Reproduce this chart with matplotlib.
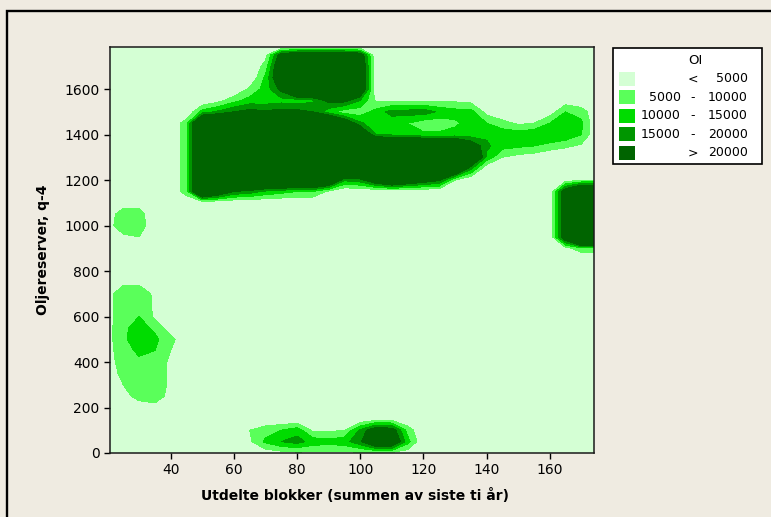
import numpy as np
import matplotlib
matplotlib.use("Agg")
import matplotlib.pyplot as plt
from matplotlib.patches import Rectangle

# surface grid (x = utdelte blokker, y = oljereserver)
x_grid = [20, 25, 30, 35, 40, 45, 50, 55, 60, 65, 70, 75, 80, 85, 90, 95,
          100, 105, 110, 115, 120, 125, 130, 135, 140, 145, 150, 155, 160, 165, 170, 175]
y_grid = [0, 50, 100, 150, 200, 250, 300, 350, 400, 450, 500, 550, 600, 650, 700, 750,
          800, 850, 900, 950, 1000, 1050, 1100, 1150, 1200, 1250, 1300, 1350, 1400,
          1450, 1500, 1550, 1600, 1650, 1700, 1750, 1785]

# OI in thousands, one row per y_grid value
oi = [
    [0, 0, 0, 0, 0, 0, 0, 0, 0, 0, 2, 3, 4, 4, 4, 4, 4, 4, 4, 2, 0, 0, 0, 0, 0, 0, 0, 0, 0, 0, 0, 0],
    [0, 0, 0, 0, 0, 0, 0, 0, 0, 4, 11, 15, 17, 13, 12, 13, 19, 32, 30, 12, 0, 0, 0, 0, 0, 0, 0, 0, 0, 0, 0, 0],
    [0, 0, 0, 0, 0, 0, 0, 0, 0, 5, 8, 10, 13, 4, 4, 5, 16, 26, 24, 8, 0, 0, 0, 0, 0, 0, 0, 0, 0, 0, 0, 0],
    [0, 0, 0, 0, 0, 0, 0, 0, 0, 0, 0, 0, 0, 0, 0, 0, 0, 2, 2, 0, 0, 0, 0, 0, 0, 0, 0, 0, 0, 0, 0, 0],
    [0, 0, 2, 3, 1, 0, 0, 0, 0, 0, 0, 0, 0, 0, 0, 0, 0, 0, 0, 0, 0, 0, 0, 0, 0, 0, 0, 0, 0, 0, 0, 0],
    [0, 3, 7, 8, 3, 0, 0, 0, 0, 0, 0, 0, 0, 0, 0, 0, 0, 0, 0, 0, 0, 0, 0, 0, 0, 0, 0, 0, 0, 0, 0, 0],
    [2, 5, 8, 8, 4, 0, 0, 0, 0, 0, 0, 0, 0, 0, 0, 0, 0, 0, 0, 0, 0, 0, 0, 0, 0, 0, 0, 0, 0, 0, 0, 0],
    [3, 6, 8, 8, 4, 0, 0, 0, 0, 0, 0, 0, 0, 0, 0, 0, 0, 0, 0, 0, 0, 0, 0, 0, 0, 0, 0, 0, 0, 0, 0, 0],
    [3, 7, 9, 8, 4, 0, 0, 0, 0, 0, 0, 0, 0, 0, 0, 0, 0, 0, 0, 0, 0, 0, 0, 0, 0, 0, 0, 0, 0, 0, 0, 0],
    [3, 8, 11, 10, 5, 0, 0, 0, 0, 0, 0, 0, 0, 0, 0, 0, 0, 0, 0, 0, 0, 0, 0, 0, 0, 0, 0, 0, 0, 0, 0, 0],
    [3, 9, 13, 11, 7, 0, 0, 0, 0, 0, 0, 0, 0, 0, 0, 0, 0, 0, 0, 0, 0, 0, 0, 0, 0, 0, 0, 0, 0, 0, 0, 0],
    [3, 9, 12, 9, 2, 0, 0, 0, 0, 0, 0, 0, 0, 0, 0, 0, 0, 0, 0, 0, 0, 0, 0, 0, 0, 0, 0, 0, 0, 0, 0, 0],
    [3, 8, 10, 4, 0, 0, 0, 0, 0, 0, 0, 0, 0, 0, 0, 0, 0, 0, 0, 0, 0, 0, 0, 0, 0, 0, 0, 0, 0, 0, 0, 0],
    [3, 8, 9, 4, 0, 0, 0, 0, 0, 0, 0, 0, 0, 0, 0, 0, 0, 0, 0, 0, 0, 0, 0, 0, 0, 0, 0, 0, 0, 0, 0, 0],
    [3, 8, 8, 4, 0, 0, 0, 0, 0, 0, 0, 0, 0, 0, 0, 0, 0, 0, 0, 0, 0, 0, 0, 0, 0, 0, 0, 0, 0, 0, 0, 0],
    [0, 4, 4, 2, 0, 0, 0, 0, 0, 0, 0, 0, 0, 0, 0, 0, 0, 0, 0, 0, 0, 0, 0, 0, 0, 0, 0, 0, 0, 0, 0, 0],
    [0, 0, 0, 0, 0, 0, 0, 0, 0, 0, 0, 0, 0, 0, 0, 0, 0, 0, 0, 0, 0, 0, 0, 0, 0, 0, 0, 0, 0, 0, 0, 0],
    [0, 0, 0, 0, 0, 0, 0, 0, 0, 0, 0, 0, 0, 0, 0, 0, 0, 0, 0, 0, 0, 0, 0, 0, 0, 0, 0, 0, 0, 0, 0, 0],
    [0, 0, 0, 0, 0, 0, 0, 0, 0, 0, 0, 0, 0, 0, 0, 0, 0, 0, 0, 0, 0, 0, 0, 0, 0, 0, 0, 0, 0, 3, 8, 8],
    [2, 4, 5, 1, 0, 0, 0, 0, 0, 0, 0, 0, 0, 0, 0, 0, 0, 0, 0, 0, 0, 0, 0, 0, 0, 0, 0, 0, 0, 28, 60, 60],
    [3, 8, 8, 1, 0, 0, 0, 0, 0, 0, 0, 0, 0, 0, 0, 0, 0, 0, 0, 0, 0, 0, 0, 0, 0, 0, 0, 0, 0, 28, 60, 60],
    [3, 7, 7, 1, 0, 0, 0, 0, 0, 0, 0, 0, 0, 0, 0, 0, 0, 0, 0, 0, 0, 0, 0, 0, 0, 0, 0, 0, 0, 28, 60, 60],
    [0, 3, 3, 0, 0, 0, 0, 0, 0, 0, 0, 0, 0, 0, 0, 0, 0, 0, 0, 0, 0, 0, 0, 0, 0, 0, 0, 0, 0, 28, 60, 60],
    [0, 0, 0, 0, 0, 8, 40, 30, 20, 18, 14, 12, 10, 10, 4, 0, 0, 0, 0, 0, 0, 0, 0, 0, 0, 0, 0, 0, 0, 26, 40, 40],
    [0, 0, 0, 0, 0, 8, 40, 40, 40, 40, 40, 40, 40, 40, 35, 16, 18, 28, 36, 30, 25, 21, 5, 0, 0, 0, 0, 0, 0, 2, 4, 4],
    [0, 0, 0, 0, 0, 8, 40, 40, 40, 40, 40, 40, 40, 40, 40, 40, 40, 40, 40, 40, 40, 40, 36, 16, 0, 0, 0, 0, 0, 0, 0, 0],
    [0, 0, 0, 0, 0, 8, 40, 40, 40, 40, 40, 40, 40, 40, 40, 40, 40, 40, 40, 40, 40, 40, 40, 36, 14, 5, 3, 2, 0, 0, 0, 0],
    [0, 0, 0, 0, 0, 8, 40, 40, 40, 40, 40, 40, 40, 40, 40, 40, 40, 40, 40, 40, 40, 40, 36, 26, 16, 12, 11, 10, 8, 6, 4, 0],
    [0, 0, 0, 0, 0, 8, 40, 40, 40, 40, 40, 40, 40, 40, 40, 40, 32, 15, 14, 13, 11, 11, 12, 12, 14, 13, 13, 14, 15, 14, 10, 0],
    [0, 0, 0, 0, 0, 8, 40, 40, 40, 40, 40, 40, 40, 40, 40, 28, 16, 12, 12, 10, 7, 7, 9, 12, 10, 7, 4, 5, 10, 15, 11, 0],
    [0, 0, 0, 0, 0, 0, 12, 16, 20, 22, 21, 22, 22, 20, 12, 7, 7, 12, 17, 17, 18, 14, 12, 12, 3, 0, 0, 0, 2, 10, 8, 0],
    [0, 0, 0, 0, 0, 0, 0, 3, 8, 12, 12, 13, 12, 14, 22, 22, 15, 4, 4, 4, 4, 4, 4, 3, 0, 0, 0, 0, 0, 2, 0, 0],
    [0, 0, 0, 0, 0, 0, 0, 0, 0, 6, 12, 22, 40, 40, 40, 40, 30, 0, 0, 0, 0, 0, 0, 0, 0, 0, 0, 0, 0, 0, 0, 0],
    [0, 0, 0, 0, 0, 0, 0, 0, 0, 0, 11, 30, 40, 40, 40, 40, 30, 0, 0, 0, 0, 0, 0, 0, 0, 0, 0, 0, 0, 0, 0, 0],
    [0, 0, 0, 0, 0, 0, 0, 0, 0, 0, 7, 30, 40, 40, 40, 40, 30, 0, 0, 0, 0, 0, 0, 0, 0, 0, 0, 0, 0, 0, 0, 0],
    [0, 0, 0, 0, 0, 0, 0, 0, 0, 0, 3, 24, 30, 30, 30, 30, 26, 0, 0, 0, 0, 0, 0, 0, 0, 0, 0, 0, 0, 0, 0, 0],
    [0, 0, 0, 0, 0, 0, 0, 0, 0, 0, 0, 0, 0, 0, 0, 0, 0, 0, 0, 0, 0, 0, 0, 0, 0, 0, 0, 0, 0, 0, 0, 0],
]

levels = [5000, 10000, 15000, 20000]
level_colors = ['#D4FFD4', '#5AFF5A', '#00DC00', '#009600', '#006400']
legend_low = ['', '5000', '10000', '15000', '']
legend_sep = ['<', '-', '-', '-', '>']
legend_high = ['5000', '10000', '15000', '20000', '20000']
x_ticks = [40, 60, 80, 100, 120, 140, 160]
y_ticks = [0, 200, 400, 600, 800, 1000, 1200, 1400, 1600]

W, H = 771, 517
fig = plt.figure(figsize=(W / 100, H / 100), dpi=100, facecolor='#EFEBE1')


def fx(px):
    return px / W


def fy(py):
    return 1 - py / H


# outer frame (runs off the right and bottom edge)
fig.patches.append(Rectangle((fx(7), fy(H + 20)), 1.0, fy(10.5) - fy(H + 20),
                             transform=fig.transFigure, fill=False, ec='black', lw=1.7))

ax = fig.add_axes([fx(110), fy(453), fx(594) - fx(110), fy(47) - fy(453)])
ax.set_facecolor(level_colors[0])
Z = np.array(oi) * 1000
ax.contourf(x_grid, y_grid, Z, levels=[-1000] + levels + [70000], colors=level_colors)
ax.set_xlim(20.8, 174)
ax.set_ylim(0, 1785)
ax.set_xticks(x_ticks)
ax.set_yticks(y_ticks)
ax.tick_params(direction='out', length=4.5, width=1, labelsize=10, pad=3, top=False, right=False)
for s in ax.spines.values():
    s.set_color('#1a1a1a')
    s.set_linewidth(1.1)

ax.set_xlabel('Utdelte blokker (summen av siste ti år)', fontsize=10, fontweight='bold')
ax.xaxis.set_label_coords(0.506, -0.086)
ax.xaxis.label.set_va('top')
ax.set_ylabel('Oljereserver, q-4', fontsize=10, fontweight='bold')
ax.yaxis.set_label_coords(-0.125, 0.5)

# legend box
fig.patches.append(Rectangle((fx(613), fy(164)), fx(762) - fx(613), fy(47.5) - fy(164),
                             transform=fig.transFigure, fc='white', ec='black', lw=1.2))
fig.text(fx(695), fy(61), 'OI', ha='center', va='center', fontsize=9.5)
for i, c in enumerate(level_colors):
    yc = 78.7 + i * 18.5
    fig.patches.append(Rectangle((fx(619), fy(yc + 6.8)), fx(16), fy(0) - fy(13.6),
                                 transform=fig.transFigure, fc=c, ec='none'))
    fig.text(fx(681), fy(yc), legend_low[i], ha='right', va='center', fontsize=9)
    fig.text(fx(693), fy(yc), legend_sep[i], ha='center', va='center', fontsize=9)
    fig.text(fx(748), fy(yc), legend_high[i], ha='right', va='center', fontsize=9)

fig.savefig('out.png', dpi=100, facecolor=fig.get_facecolor())
